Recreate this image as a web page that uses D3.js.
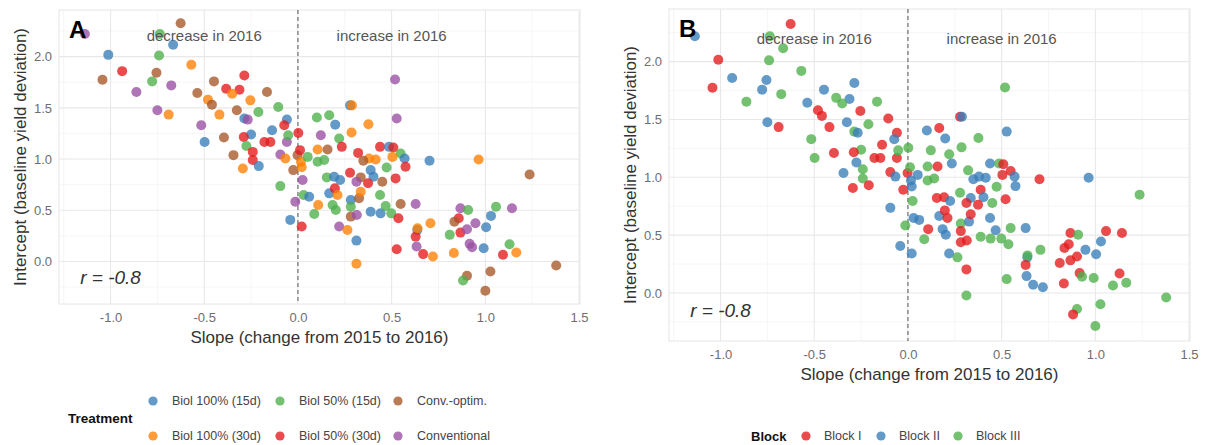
<!DOCTYPE html>
<html>
<head>
<meta charset="utf-8">
<script src="https://cdn.jsdelivr.net/npm/d3@7"></script>
<style>
  html, body { margin: 0; padding: 0; background: #fff; }
  svg { display: block; font-family: "Liberation Sans", Arial, sans-serif; }
</style>
</head>
<body>
<svg id="chart" width="1205" height="445"></svg>
<script>
// ---------- DATA ----------
const treatments = ["Biol 100% (15d)", "Biol 100% (30d)", "Biol 50% (15d)", "Biol 50% (30d)", "Conv.-optim.", "Conventional"];
const treatmentColors = ["#377EB8", "#FF7F00", "#4DAF4A", "#E41A1C", "#A65628", "#984EA3"];
const blocks = ["Block I", "Block II", "Block III"];
const blockColors = ["#E41A1C", "#377EB8", "#4DAF4A"];
const xTicks = [-1.0, -0.5, 0.0, 0.5, 1.0, 1.5];
const yTicks = [0.0, 0.5, 1.0, 1.5, 2.0];
const xMinor = [-1.25, -0.75, -0.25, 0.25, 0.75, 1.25];
const yMinor = [-0.25, 0.25, 0.75, 1.25, 1.75, 2.25];
const annotations = [{x: -0.5, y: 2.2, text: "decrease in 2016"}, {x: 0.5, y: 2.2, text: "increase in 2016"}];
const corrLabel = {x: -1.0, y: -0.15, text: "r = -0.8"};
// one entry per plot: slope, intercept, treatment index, block index
const slopes     = [-1.137,-0.626,-1.012,-0.737,-0.666,-0.741,-0.569,-0.938,-1.043,-0.778,-0.755,-0.676,-0.862,-0.75,-0.69,-0.537,-0.48,-0.459,-0.419,-0.448,-0.383,-0.312,-0.351,-0.286,-0.165,-0.254,-0.211,-0.326,-0.105,-0.286,-0.268,-0.516,-0.395,-0.498,-0.25,-0.289,-0.275,-0.059,-0.059,-0.138,-0.073,0.002,-0.052,-0.179,-0.147,-0.241,-0.241,-0.209,-0.344,-0.294,-0.094,-0.067,-0.025,-0.002,0.011,0.016,0.02,0.052,0.025,-0.094,-0.014,-0.041,0.02,0.03,0.06,0.087,0.108,0.101,0.167,0.199,0.122,0.22,0.234,0.286,0.376,0.278,0.288,0.518,0.527,0.105,0.158,0.105,0.14,0.321,0.154,0.193,0.225,0.278,0.335,0.438,0.486,0.509,0.548,0.569,0.574,0.504,0.379,0.415,0.349,0.473,0.521,0.388,0.403,0.374,0.45,0.312,0.167,0.197,0.211,0.185,0.202,0.282,0.282,0.326,0.335,0.282,0.314,0.22,0.264,0.312,0.388,0.441,0.438,0.468,0.498,0.536,0.548,0.628,0.527,0.637,0.628,0.702,0.964,1.236,0.707,0.638,0.633,0.668,0.72,0.312,0.867,0.908,0.858,0.835,0.867,0.902,0.947,0.81,1.004,1.03,1.057,1.142,0.916,0.929,0.991,1.129,1.165,1.094,0.832,0.902,0.881,1.027,1.0,1.378];
const intercepts = [2.22,2.325,2.017,2.22,2.115,2.011,1.92,1.858,1.774,1.758,1.842,1.719,1.654,1.476,1.434,1.644,1.58,1.531,1.434,1.758,1.687,1.677,1.638,1.816,1.654,1.573,1.459,1.476,1.508,1.395,1.385,1.33,1.21,1.167,1.239,1.216,1.128,1.167,1.385,1.281,1.33,1.255,1.233,1.167,1.167,1.07,0.99,0.931,1.038,0.908,1.045,1.006,0.892,1.038,1.087,0.973,0.92,1.021,0.795,0.736,0.584,0.406,0.341,0.649,0.632,0.464,0.552,1.405,1.427,1.336,1.233,1.2,1.119,1.259,1.34,1.524,1.524,1.777,1.395,1.093,1.093,0.973,0.99,1.06,0.821,0.827,0.795,0.866,0.821,1.119,1.119,1.113,1.054,1.006,0.924,1.021,1.006,0.996,0.983,0.918,0.811,0.892,0.827,0.763,0.778,0.778,0.665,0.714,0.649,0.552,0.503,0.6,0.535,0.617,0.681,0.438,0.454,0.341,0.308,0.204,0.486,0.47,0.649,0.542,0.47,0.422,0.561,0.561,0.12,0.308,0.243,0.983,0.996,0.85,0.373,0.325,0.146,0.072,0.049,-0.022,0.519,0.503,0.422,0.389,0.282,0.315,0.373,0.26,0.335,0.445,0.535,0.519,0.172,0.14,0.13,0.169,0.088,0.065,0.082,-0.139,-0.185,-0.097,-0.285,-0.039];
const treatmentIdx = [5,4,0,2,0,2,1,3,4,2,4,5,5,5,1,4,1,4,1,4,3,3,1,3,4,1,2,4,2,0,5,5,4,0,0,3,2,5,0,0,3,3,2,3,3,3,3,0,4,1,5,1,4,4,3,1,1,2,5,2,5,0,3,2,0,2,1,2,2,0,5,2,3,1,1,0,1,5,5,1,4,2,2,3,2,0,0,3,4,3,0,3,2,0,3,1,1,1,4,2,3,0,0,3,4,5,0,3,1,2,2,0,2,4,1,4,5,5,1,0,0,0,2,2,2,3,4,5,3,0,3,0,1,4,1,1,5,3,1,1,5,2,3,4,3,5,5,2,0,0,2,5,5,5,0,2,1,3,1,4,2,4,4,4];
const blockIdx     = [1,0,0,2,2,2,2,1,0,1,1,2,2,1,0,1,0,0,0,1,2,1,2,1,2,0,2,1,0,2,1,2,0,2,2,0,1,0,0,0,1,2,2,0,0,2,2,0,1,0,0,1,0,0,2,1,1,1,2,1,2,1,1,1,1,2,0,1,0,1,2,2,1,2,2,0,1,2,1,2,0,2,2,2,0,0,1,2,1,1,2,0,0,1,1,0,1,1,1,2,0,0,1,0,2,0,1,0,0,1,1,2,0,1,0,0,0,1,2,0,2,2,1,1,2,2,2,1,2,1,0,0,1,2,2,2,1,1,1,2,0,2,0,0,0,0,1,0,1,1,0,0,0,2,2,0,2,2,0,2,0,2,2,2];

const points = slopes.map((s, i) => ({x: s, y: intercepts[i], t: treatmentIdx[i], b: blockIdx[i]}));

// ---------- LAYOUT ----------
const svg = d3.select("#chart");
const xDomain = [-1.275, 1.505];
const yDomain = [-0.415, 2.455];

const panels = [
  {label: "A", x0: 59, x1: 580, y0: 10, y1: 304, colorBy: "t", colors: treatmentColors, ytitleX: 20},
  {label: "B", x0: 669, x1: 1190, y0: 9, y1: 341, colorBy: "b", colors: blockColors, ytitleX: 630}
];

panels.forEach(p => {
  const x = d3.scaleLinear().domain(xDomain).range([p.x0, p.x1]);
  const y = d3.scaleLinear().domain(yDomain).range([p.y1, p.y0]);
  const g = svg.append("g");

  // minor grid
  g.selectAll(".xminor").data(xMinor).join("line")
    .attr("x1", d => x(d)).attr("x2", d => x(d)).attr("y1", p.y0).attr("y2", p.y1)
    .attr("stroke", "#f2f2f2").attr("stroke-width", 0.7);
  g.selectAll(".yminor").data(yMinor).join("line")
    .attr("y1", d => y(d)).attr("y2", d => y(d)).attr("x1", p.x0).attr("x2", p.x1)
    .attr("stroke", "#f2f2f2").attr("stroke-width", 0.7);
  // major grid
  g.selectAll(".xmajor").data(xTicks).join("line")
    .attr("x1", d => x(d)).attr("x2", d => x(d)).attr("y1", p.y0).attr("y2", p.y1)
    .attr("stroke", "#e8e8e8").attr("stroke-width", 1.1);
  g.selectAll(".ymajor").data(yTicks).join("line")
    .attr("y1", d => y(d)).attr("y2", d => y(d)).attr("x1", p.x0).attr("x2", p.x1)
    .attr("stroke", "#e8e8e8").attr("stroke-width", 1.1);
  // border
  g.append("rect").attr("x", p.x0).attr("y", p.y0).attr("width", p.x1 - p.x0).attr("height", p.y1 - p.y0)
    .attr("fill", "none").attr("stroke", "#e6e6e6").attr("stroke-width", 1);

  // dashed zero line
  g.append("line").attr("x1", x(0)).attr("x2", x(0)).attr("y1", p.y0).attr("y2", p.y1)
    .attr("stroke", "#555").attr("stroke-width", 1).attr("stroke-dasharray", "4,3");

  // points
  g.selectAll("circle.pt").data(points).join("circle")
    .attr("class", "pt")
    .attr("cx", d => x(d.x)).attr("cy", d => y(d.y)).attr("r", 5)
    .attr("fill", d => p.colors[d[p.colorBy]]).attr("fill-opacity", 0.78);

  // axes (text only)
  const xAxis = d3.axisBottom(x).tickValues(xTicks).tickFormat(d3.format(".1f")).tickSize(0).tickPadding(9);
  const ax = g.append("g").attr("transform", `translate(0,${p.y1})`).call(xAxis);
  ax.select(".domain").remove();
  ax.selectAll("text").attr("fill", "#6e6e6e").attr("font-size", 13).text(d => d3.format(".1f")(d).replace("−", "-"));

  const yAxis = d3.axisLeft(y).tickValues(yTicks).tickFormat(d3.format(".1f")).tickSize(0).tickPadding(7);
  const ay = g.append("g").attr("transform", `translate(${p.x0},0)`).call(yAxis);
  ay.select(".domain").remove();
  ay.selectAll("text").attr("fill", "#6e6e6e").attr("font-size", 13);
  svg.selectAll("g").attr("font-family", null);

  // axis titles
  g.append("text").attr("x", (p.x0 + p.x1) / 2).attr("y", p.y1 + 33).attr("dy", "0.35em")
    .attr("text-anchor", "middle").attr("font-size", 17).attr("fill", "#333")
    .text("Slope (change from 2015 to 2016)");
  g.append("text").attr("transform", `translate(${p.ytitleX},${(p.y0 + p.y1) / 2}) rotate(-90)`)
    .attr("dy", "0.35em").attr("text-anchor", "middle").attr("font-size", 17).attr("fill", "#333")
    .text("Intercept (baseline yield deviation)");

  // annotations
  g.selectAll("text.ann").data(annotations).join("text").attr("class", "ann")
    .attr("x", d => x(d.x)).attr("y", d => y(d.y)).attr("dy", "0.35em")
    .attr("text-anchor", "middle").attr("font-size", 15).attr("fill", "#555")
    .text(d => d.text);
  g.append("text").attr("x", x(corrLabel.x)).attr("y", y(corrLabel.y)).attr("dy", "0.35em")
    .attr("text-anchor", "middle").attr("font-size", 19).attr("font-style", "italic").attr("fill", "#333")
    .text(corrLabel.text);

  // panel letter
  g.append("text").attr("x", p.x0 + 10).attr("y", p.y0 + 28).attr("font-size", 24).attr("font-weight", "bold")
    .attr("fill", "#000").text(p.label);
});

// ---------- LEGENDS ----------
const legA = svg.append("g");
legA.append("text").attr("x", 68).attr("y", 418).attr("dy", "0.35em").attr("font-size", 13.5)
  .attr("font-weight", "bold").attr("fill", "#111").text("Treatment");
const colX = [153, 280, 398];
const rowY = [401, 436];
treatments.forEach((t, i) => {
  const c = Math.floor(i / 2), r = i % 2;
  legA.append("circle").attr("cx", colX[c]).attr("cy", rowY[r]).attr("r", 4.6)
    .attr("fill", treatmentColors[i]).attr("fill-opacity", 0.78);
  legA.append("text").attr("x", colX[c] + 19).attr("y", rowY[r]).attr("dy", "0.35em")
    .attr("font-size", 12.5).attr("fill", "#444").text(t);
});

const legB = svg.append("g");
legB.append("text").attr("x", 751).attr("y", 436).attr("dy", "0.35em").attr("font-size", 13)
  .attr("font-weight", "bold").attr("fill", "#111").text("Block");
const bX = [806, 881, 958];
blocks.forEach((b, i) => {
  legB.append("circle").attr("cx", bX[i]).attr("cy", 436).attr("r", 4.6)
    .attr("fill", blockColors[i]).attr("fill-opacity", 0.78);
  legB.append("text").attr("x", bX[i] + 18).attr("y", 436).attr("dy", "0.35em")
    .attr("font-size", 12.5).attr("fill", "#444").text(b);
});
</script>
</body>
</html>
